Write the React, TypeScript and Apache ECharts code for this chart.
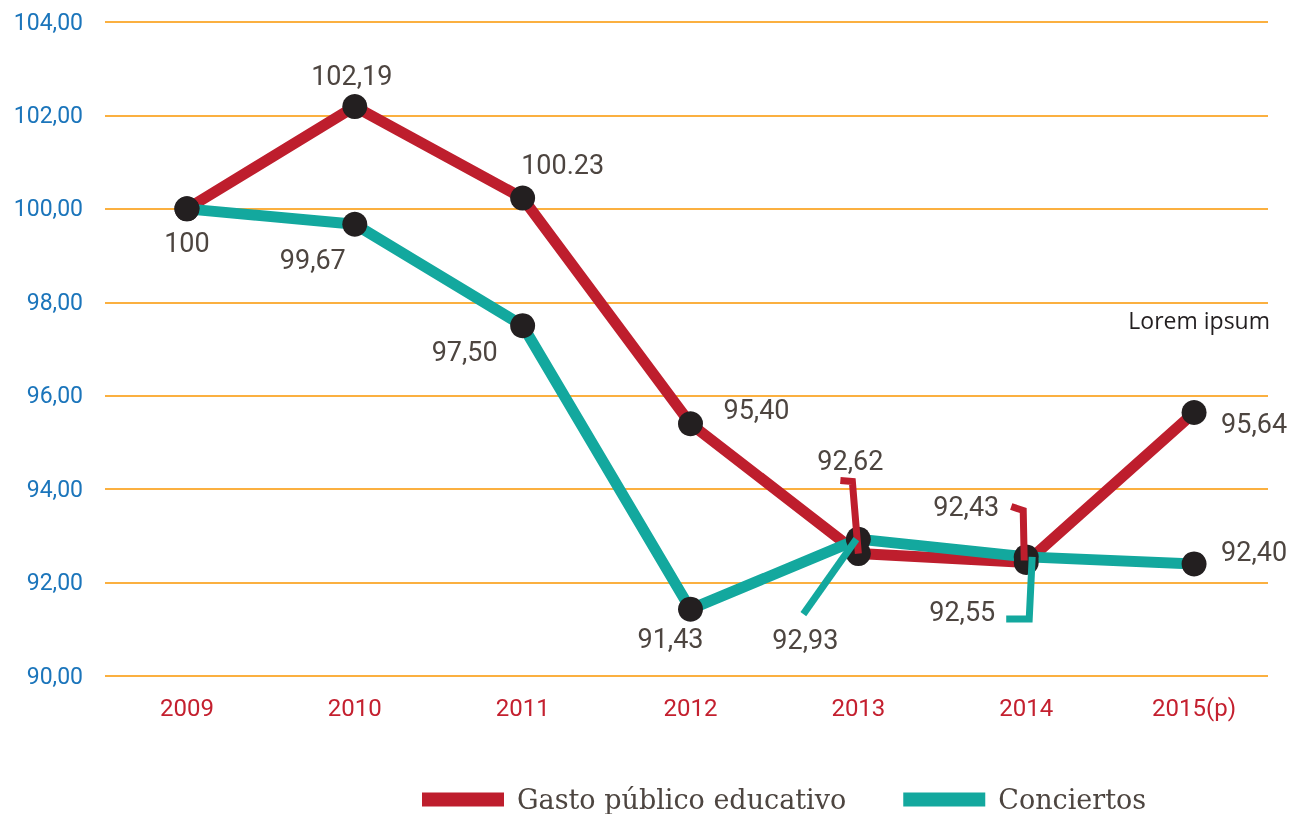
import React, { useEffect, useRef } from "react";
import * as echarts from "echarts";

const years = ["2009", "2010", "2011", "2012", "2013", "2014", "2015(p)"];
const gastoValues = [100, 102.19, 100.23, 95.4, 92.62, 92.43, 95.64];
const conciertosValues = [100, 99.67, 97.5, 91.43, 92.93, 92.55, 92.4];
const gastoLabels = ["100", "102,19", "100.23", "95,40", "92,62", "92,43", "95,64"];
const conciertosLabels = ["", "99,67", "97,50", "91,43", "92,93", "92,55", "92,40"];
const yTicks = [90, 92, 94, 96, 98, 100, 102, 104];

const RED = "#be1e2d";
const TEAL = "#13a89e";
const DOT = "#231f20";
const LABEL = "#4d4540";
const GRID = "#fbb040";

// label offsets (px) relative to point
const gastoOffsets: [number, number][] = [[0, 34], [-3, -31], [40, -33], [66, -14], [-8, -93], [-60, -55], [60, 11]];
const conciertosOffsets: [number, number][] = [[0, 0], [-42, 36], [-58, 26], [-20, 30], [-53, 101], [-64, 55], [60, -12]];

// annotation hooks (px offsets relative to point)
const hooks = [
  { series: 0, idx: 4, color: RED, pts: [[-18, -73], [-6, -72], [0, 0]] },
  { series: 1, idx: 4, color: TEAL, pts: [[-55, 75], [-2, 0]] },
  { series: 0, idx: 5, color: RED, pts: [[-15, -56], [-3, -52], [-2, -2]] },
  { series: 1, idx: 5, color: TEAL, pts: [[-20, 62], [3, 62], [6, 0]] },
];

const fmt = (v: number) => v.toFixed(2).replace(".", ",");

export default function App() {
  const ref = useRef<HTMLDivElement>(null);
  useEffect(() => {
    if (!ref.current) return;
    const chart = echarts.init(ref.current, null, { renderer: "svg" });
    const labelFont = { fontFamily: "Roboto", fontSize: 27, color: LABEL };
    const mkScatter = (vals: number[], labels: string[], offs: [number, number][], z: number) => ({
      type: "scatter",
      xAxisIndex: 1,
      yAxisIndex: 1,
      z,
      symbolSize: 25,
      itemStyle: { color: DOT, opacity: 1 },
      data: vals.map((v, i) => ({
        value: v,
        label: {
          show: labels[i] !== "",
          formatter: labels[i],
          position: "inside",
          offset: offs[i],
          align: "center",
          verticalAlign: "middle",
          ...labelFont,
        },
      })),
    });
    const lorem = {
      type: "text",
      right: 34,
      top: 308,
      style: { text: "Lorem ipsum", fontFamily: "Open Sans", fontSize: 23, fill: "#231f20" },
    };
    chart.setOption({
      animation: false,
      grid: [
        { left: 105, right: 36, top: 22, bottom: 138 },
        { left: 103, right: 26, top: 22, bottom: 138 },
      ],
      legend: {
        left: 417,
        top: 781,
        itemWidth: 82,
        itemHeight: 14,
        itemGap: 57,
        textStyle: {
          fontFamily: "DejaVu Serif",
          fontSize: 27,
          lineHeight: 27,
          color: LABEL,
          padding: [0, 0, 0, 8],
        },
        data: [
          { name: "Gasto público educativo", icon: "rect", itemStyle: { color: RED } },
          { name: "Conciertos", icon: "rect", itemStyle: { color: TEAL } },
        ],
      },
      xAxis: [
        {
          type: "category",
          gridIndex: 0,
          data: years,
          show: false,
        },
        {
          type: "category",
          gridIndex: 1,
          data: years,
          boundaryGap: true,
          axisLine: { show: false },
          axisTick: { show: false },
          splitLine: { show: false },
          axisLabel: { color: "#c4202f", fontFamily: "Roboto", fontSize: 24, margin: 20 },
        },
      ],
      yAxis: [
        {
          type: "value",
          gridIndex: 0,
          min: yTicks[0],
          max: yTicks[yTicks.length - 1],
          interval: 2,
          axisLine: { show: false },
          axisTick: { show: false },
          axisLabel: { color: "#1b75bb", fontFamily: "Roboto", fontSize: 23, margin: 22, formatter: (v: number) => fmt(v) },
          splitLine: { lineStyle: { color: GRID, width: 2 } },
        },
        {
          type: "value",
          gridIndex: 1,
          min: yTicks[0],
          max: yTicks[yTicks.length - 1],
          interval: 2,
          show: false,
          splitLine: { show: false },
        },
      ],
      graphic: [lorem],
      series: [
        {
          name: "Gasto público educativo",
          type: "line",
          xAxisIndex: 1,
          yAxisIndex: 1,
          data: gastoValues,
          showSymbol: false,
          symbol: "none",
          lineStyle: { color: RED, width: 11 },
          itemStyle: { color: RED },
          z: 2,
        },
        {
          name: "Conciertos",
          type: "line",
          xAxisIndex: 1,
          yAxisIndex: 1,
          data: conciertosValues,
          showSymbol: false,
          symbol: "none",
          lineStyle: { color: TEAL, width: 11 },
          itemStyle: { color: TEAL },
          z: 3,
        },
        mkScatter(gastoValues, gastoLabels, gastoOffsets, 10),
        mkScatter(conciertosValues, conciertosLabels, conciertosOffsets, 10),
      ],
    });
    const seriesVals = [gastoValues, conciertosValues];
    const hookGraphics = hooks.map((h) => {
      const p = chart.convertToPixel({ gridIndex: 1 }, [h.idx, seriesVals[h.series][h.idx]]) as number[];
      return {
        type: "polyline",
        z: 100,
        shape: { points: h.pts.map(([dx, dy]) => [p[0] + dx, p[1] + dy]) },
        style: { stroke: h.color, lineWidth: 7, fill: "none" },
      };
    });
    chart.setOption({ graphic: [lorem, ...hookGraphics] });
    return () => chart.dispose();
  }, []);
  return <div ref={ref} style={{ position: "fixed", left: 0, top: 0, width: 1304, height: 814 }} />;
}
